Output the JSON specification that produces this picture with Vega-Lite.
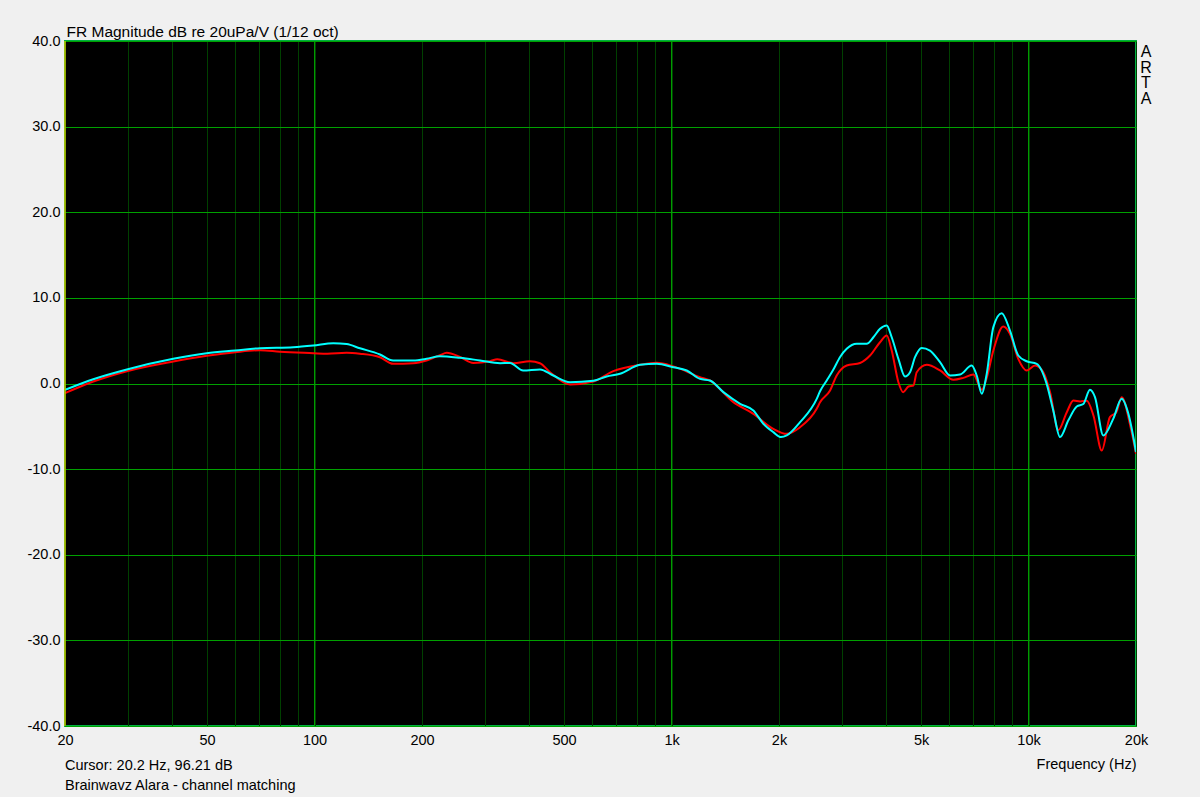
{
  "$schema": "https://vega.github.io/schema/vega-lite/v6.json",
  "autosize": {"type": "none"},
  "width": 1071,
  "height": 685,
  "padding": {"left": 65, "top": 41, "right": 64, "bottom": 71},
  "background": "#f0f0f0",
  "config": {
    "font": "Liberation Sans",
    "view": {"fill": "#000000", "stroke": "#00b040", "strokeWidth": 2},
    "axis": {"labelFont": "Liberation Sans", "titleFont": "Liberation Sans", "labelColor": "#000000", "titleColor": "#000000", "titleFontWeight": "normal"}
  },
  "title": {
    "text": ["Cursor: 20.2 Hz, 96.21 dB", "Brainwavz Alara - channel matching"],
    "orient": "bottom",
    "anchor": "start",
    "frame": "group",
    "offset": -12,
    "font": "Liberation Sans",
    "fontSize": 14.5,
    "fontWeight": "normal",
    "color": "#000000",
    "lineHeight": 20
  },
  "datasets": {
    "fr": [
      {"ch": "L", "f": 20, "db": -1.13},
      {"ch": "L", "f": 24, "db": 0.23},
      {"ch": "L", "f": 29.8, "db": 1.44},
      {"ch": "L", "f": 40.2, "db": 2.57},
      {"ch": "L", "f": 49.9, "db": 3.23},
      {"ch": "L", "f": 60, "db": 3.66},
      {"ch": "L", "f": 70.4, "db": 3.89},
      {"ch": "L", "f": 80, "db": 3.72},
      {"ch": "L", "f": 99.2, "db": 3.54},
      {"ch": "L", "f": 108.6, "db": 3.47},
      {"ch": "L", "f": 123, "db": 3.58},
      {"ch": "L", "f": 134, "db": 3.47},
      {"ch": "L", "f": 152.5, "db": 3.07},
      {"ch": "L", "f": 166, "db": 2.3},
      {"ch": "L", "f": 189, "db": 2.37},
      {"ch": "L", "f": 206, "db": 2.69},
      {"ch": "L", "f": 224.5, "db": 3.3},
      {"ch": "L", "f": 234.6, "db": 3.58},
      {"ch": "L", "f": 255.6, "db": 3.1},
      {"ch": "L", "f": 278.5, "db": 2.4},
      {"ch": "L", "f": 310, "db": 2.6},
      {"ch": "L", "f": 325, "db": 2.84},
      {"ch": "L", "f": 360.5, "db": 2.37},
      {"ch": "L", "f": 401, "db": 2.6},
      {"ch": "L", "f": 428, "db": 2.37},
      {"ch": "L", "f": 456.6, "db": 1.32},
      {"ch": "L", "f": 519.6, "db": -0.12},
      {"ch": "L", "f": 604, "db": 0.23},
      {"ch": "L", "f": 687, "db": 1.44},
      {"ch": "L", "f": 816, "db": 2.18},
      {"ch": "L", "f": 909, "db": 2.41},
      {"ch": "L", "f": 1012, "db": 2.0},
      {"ch": "L", "f": 1201, "db": 0.74},
      {"ch": "L", "f": 1281, "db": 0.35},
      {"ch": "L", "f": 1490, "db": -2.18},
      {"ch": "L", "f": 1695, "db": -3.54},
      {"ch": "L", "f": 1928, "db": -5.3},
      {"ch": "L", "f": 2102, "db": -5.88},
      {"ch": "L", "f": 2291, "db": -5.1},
      {"ch": "L", "f": 2551, "db": -2.96},
      {"ch": "L", "f": 2606, "db": -2.2},
      {"ch": "L", "f": 2780, "db": -0.82},
      {"ch": "L", "f": 2902, "db": 0.93},
      {"ch": "L", "f": 3095, "db": 2.1},
      {"ch": "L", "f": 3373, "db": 2.4},
      {"ch": "L", "f": 3598, "db": 3.27},
      {"ch": "L", "f": 3837, "db": 4.82},
      {"ch": "L", "f": 4006, "db": 5.6},
      {"ch": "L", "f": 4138, "db": 3.85},
      {"ch": "L", "f": 4320, "db": 0.15},
      {"ch": "L", "f": 4455, "db": -1.01},
      {"ch": "L", "f": 4609, "db": -0.35},
      {"ch": "L", "f": 4760, "db": -0.23},
      {"ch": "L", "f": 4862, "db": 1.32},
      {"ch": "L", "f": 5188, "db": 2.18},
      {"ch": "L", "f": 5650, "db": 1.52},
      {"ch": "L", "f": 6160, "db": 0.43},
      {"ch": "L", "f": 6566, "db": 0.66},
      {"ch": "L", "f": 7006, "db": 1.05},
      {"ch": "L", "f": 7398, "db": -0.74},
      {"ch": "L", "f": 7636, "db": 0.66},
      {"ch": "L", "f": 7970, "db": 3.85},
      {"ch": "L", "f": 8497, "db": 6.66},
      {"ch": "L", "f": 8871, "db": 5.8},
      {"ch": "L", "f": 9360, "db": 2.88},
      {"ch": "L", "f": 9882, "db": 1.52},
      {"ch": "L", "f": 10430, "db": 2.1},
      {"ch": "L", "f": 11000, "db": 1.32},
      {"ch": "L", "f": 11490, "db": -1.01},
      {"ch": "L", "f": 12120, "db": -5.43},
      {"ch": "L", "f": 12800, "db": -3.35},
      {"ch": "L", "f": 13350, "db": -1.99},
      {"ch": "L", "f": 13950, "db": -2.1},
      {"ch": "L", "f": 14560, "db": -2.0},
      {"ch": "L", "f": 15200, "db": -3.74},
      {"ch": "L", "f": 16040, "db": -7.83},
      {"ch": "L", "f": 16900, "db": -3.93},
      {"ch": "L", "f": 17620, "db": -3.35},
      {"ch": "L", "f": 18240, "db": -1.6},
      {"ch": "L", "f": 19270, "db": -4.9},
      {"ch": "L", "f": 20000, "db": -8.2},
      {"ch": "R", "f": 20, "db": -0.74},
      {"ch": "R", "f": 24, "db": 0.5},
      {"ch": "R", "f": 29.8, "db": 1.64},
      {"ch": "R", "f": 40.2, "db": 2.88},
      {"ch": "R", "f": 49.9, "db": 3.54},
      {"ch": "R", "f": 60, "db": 3.86},
      {"ch": "R", "f": 70.4, "db": 4.13},
      {"ch": "R", "f": 87.2, "db": 4.24},
      {"ch": "R", "f": 99.2, "db": 4.44},
      {"ch": "R", "f": 112.9, "db": 4.71},
      {"ch": "R", "f": 123, "db": 4.6},
      {"ch": "R", "f": 134, "db": 4.12},
      {"ch": "R", "f": 152.5, "db": 3.39},
      {"ch": "R", "f": 166, "db": 2.69},
      {"ch": "R", "f": 189, "db": 2.69},
      {"ch": "R", "f": 206, "db": 2.88},
      {"ch": "R", "f": 224.5, "db": 3.19},
      {"ch": "R", "f": 255.6, "db": 3.0},
      {"ch": "R", "f": 290.8, "db": 2.69},
      {"ch": "R", "f": 330.9, "db": 2.37},
      {"ch": "R", "f": 352.8, "db": 2.4},
      {"ch": "R", "f": 384, "db": 1.52},
      {"ch": "R", "f": 428, "db": 1.64},
      {"ch": "R", "f": 466.3, "db": 0.93},
      {"ch": "R", "f": 519.6, "db": 0.15},
      {"ch": "R", "f": 604, "db": 0.32},
      {"ch": "R", "f": 658, "db": 0.82},
      {"ch": "R", "f": 717, "db": 1.13},
      {"ch": "R", "f": 816, "db": 2.18},
      {"ch": "R", "f": 909, "db": 2.3},
      {"ch": "R", "f": 1012, "db": 1.9},
      {"ch": "R", "f": 1103, "db": 1.52},
      {"ch": "R", "f": 1201, "db": 0.55},
      {"ch": "R", "f": 1281, "db": 0.35},
      {"ch": "R", "f": 1397, "db": -1.01},
      {"ch": "R", "f": 1556, "db": -2.37},
      {"ch": "R", "f": 1695, "db": -3.15},
      {"ch": "R", "f": 1808, "db": -4.7},
      {"ch": "R", "f": 1928, "db": -5.68},
      {"ch": "R", "f": 2026, "db": -6.26},
      {"ch": "R", "f": 2102, "db": -6.07},
      {"ch": "R", "f": 2291, "db": -4.52},
      {"ch": "R", "f": 2551, "db": -1.79},
      {"ch": "R", "f": 2606, "db": -0.9},
      {"ch": "R", "f": 2721, "db": 0.35},
      {"ch": "R", "f": 2838, "db": 1.6},
      {"ch": "R", "f": 2966, "db": 3.1},
      {"ch": "R", "f": 3095, "db": 4.05},
      {"ch": "R", "f": 3301, "db": 4.64},
      {"ch": "R", "f": 3520, "db": 4.64},
      {"ch": "R", "f": 3676, "db": 5.4},
      {"ch": "R", "f": 3837, "db": 6.39},
      {"ch": "R", "f": 4006, "db": 6.78},
      {"ch": "R", "f": 4138, "db": 5.4},
      {"ch": "R", "f": 4320, "db": 2.88},
      {"ch": "R", "f": 4509, "db": 0.82},
      {"ch": "R", "f": 4656, "db": 1.32},
      {"ch": "R", "f": 4809, "db": 3.07},
      {"ch": "R", "f": 5020, "db": 4.16},
      {"ch": "R", "f": 5296, "db": 3.85},
      {"ch": "R", "f": 5650, "db": 2.49},
      {"ch": "R", "f": 6027, "db": 0.93},
      {"ch": "R", "f": 6431, "db": 1.05},
      {"ch": "R", "f": 6931, "db": 2.1},
      {"ch": "R", "f": 7160, "db": 0.93},
      {"ch": "R", "f": 7398, "db": -1.2},
      {"ch": "R", "f": 7636, "db": 1.13},
      {"ch": "R", "f": 7970, "db": 6.58},
      {"ch": "R", "f": 8411, "db": 8.21},
      {"ch": "R", "f": 8871, "db": 6.19},
      {"ch": "R", "f": 9360, "db": 3.27},
      {"ch": "R", "f": 9882, "db": 2.6},
      {"ch": "R", "f": 10540, "db": 2.3},
      {"ch": "R", "f": 11240, "db": -0.04},
      {"ch": "R", "f": 11730, "db": -3.15},
      {"ch": "R", "f": 12250, "db": -6.26},
      {"ch": "R", "f": 12930, "db": -4.3},
      {"ch": "R", "f": 13650, "db": -2.69},
      {"ch": "R", "f": 14240, "db": -2.4},
      {"ch": "R", "f": 14860, "db": -0.74},
      {"ch": "R", "f": 15350, "db": -1.6},
      {"ch": "R", "f": 16200, "db": -6.07},
      {"ch": "R", "f": 17280, "db": -4.1},
      {"ch": "R", "f": 18240, "db": -1.79},
      {"ch": "R", "f": 19040, "db": -3.54},
      {"ch": "R", "f": 20000, "db": -8.0}
    ],
    "major": [{"f": 100}, {"f": 1000}, {"f": 10000}]
  },
  "layer": [
    {
      "data": {"name": "major"},
      "mark": {"type": "rule", "color": "#00a000", "strokeWidth": 1},
      "encoding": {"x": {"field": "f", "type": "quantitative"}}
    },
    {
      "data": {"name": "fr"},
      "mark": {"type": "line", "strokeWidth": 2, "interpolate": "monotone", "clip": true},
      "encoding": {
        "x": {
          "field": "f",
          "type": "quantitative",
          "scale": {"type": "log", "domain": [20, 20000], "nice": false},
          "axis": {
            "values": [20, 30, 40, 50, 60, 70, 80, 90, 100, 200, 300, 400, 500, 600, 700, 800, 900, 1000, 2000, 3000, 4000, 5000, 6000, 7000, 8000, 9000, 10000, 20000],
            "labelExpr": "indexof([20,50,100,200,500],datum.value)>=0 ? ''+datum.value : (indexof([1000,2000,5000,10000,20000],datum.value)>=0 ? (datum.value/1000)+'k' : '')",
            "labelOverlap": false,
            "labelFlush": false,
            "labelBound": false,
            "labelFontSize": 14.5,
            "labelPadding": 7,
            "ticks": false,
            "domain": false,
            "grid": true,
            "gridWidth": 1,
            "gridColor": "#004000",
            "gridOpacity": 1,
            "title": "Frequency (Hz)",
            "titleFontSize": 14.5,
            "titleX": 1071,
            "titleY": 42,
            "titleAlign": "right",
            "titleAnchor": null,
            "titleBaseline": "alphabetic"
          }
        },
        "y": {
          "field": "db",
          "type": "quantitative",
          "scale": {"domain": [-40, 40], "nice": false, "zero": false},
          "axis": {
            "values": [-40, -30, -20, -10, 0, 10, 20, 30, 40],
            "labelExpr": "(datum.value < 0 ? '-' : '') + abs(datum.value) + '.0'",
            "labelFontSize": 14.5,
            "labelPadding": 5,
            "labelBaseline": "middle",
            "labelFlush": false,
            "labelBound": false,
            "labelOverlap": false,
            "ticks": false,
            "domain": false,
            "grid": true,
            "gridWidth": 1,
            "gridColor": "#00a000",
            "gridOpacity": 1,
            "title": "FR Magnitude dB re 20uPa/V (1/12 oct)",
            "titleFontSize": 15.5,
            "titleAngle": 0,
            "titleAlign": "left",
            "titleBaseline": "alphabetic",
            "titleX": 1,
            "titleY": -5
          }
        },
        "color": {
          "field": "ch",
          "type": "nominal",
          "scale": {"domain": ["L", "R"], "range": ["#ff0000", "#00ffff"]},
          "legend": null
        }
      }
    },
    {
      "data": {"values": [{}]},
      "mark": {"type": "rule", "color": "#c8c800", "strokeWidth": 1.5},
      "encoding": {"x": {"datum": 20}}
    },
    {
      "data": {"values": [{}]},
      "mark": {"type": "text", "align": "center", "baseline": "top", "dx": 10, "dy": 3, "fontSize": 16, "lineHeight": 15.7, "lineBreak": "\n", "font": "Liberation Sans", "fill": "#000000", "fontWeight": "normal"},
      "encoding": {"x": {"datum": 20000}, "y": {"datum": 40}, "text": {"value": "A\nR\nT\nA"}}
    }
  ]
}
